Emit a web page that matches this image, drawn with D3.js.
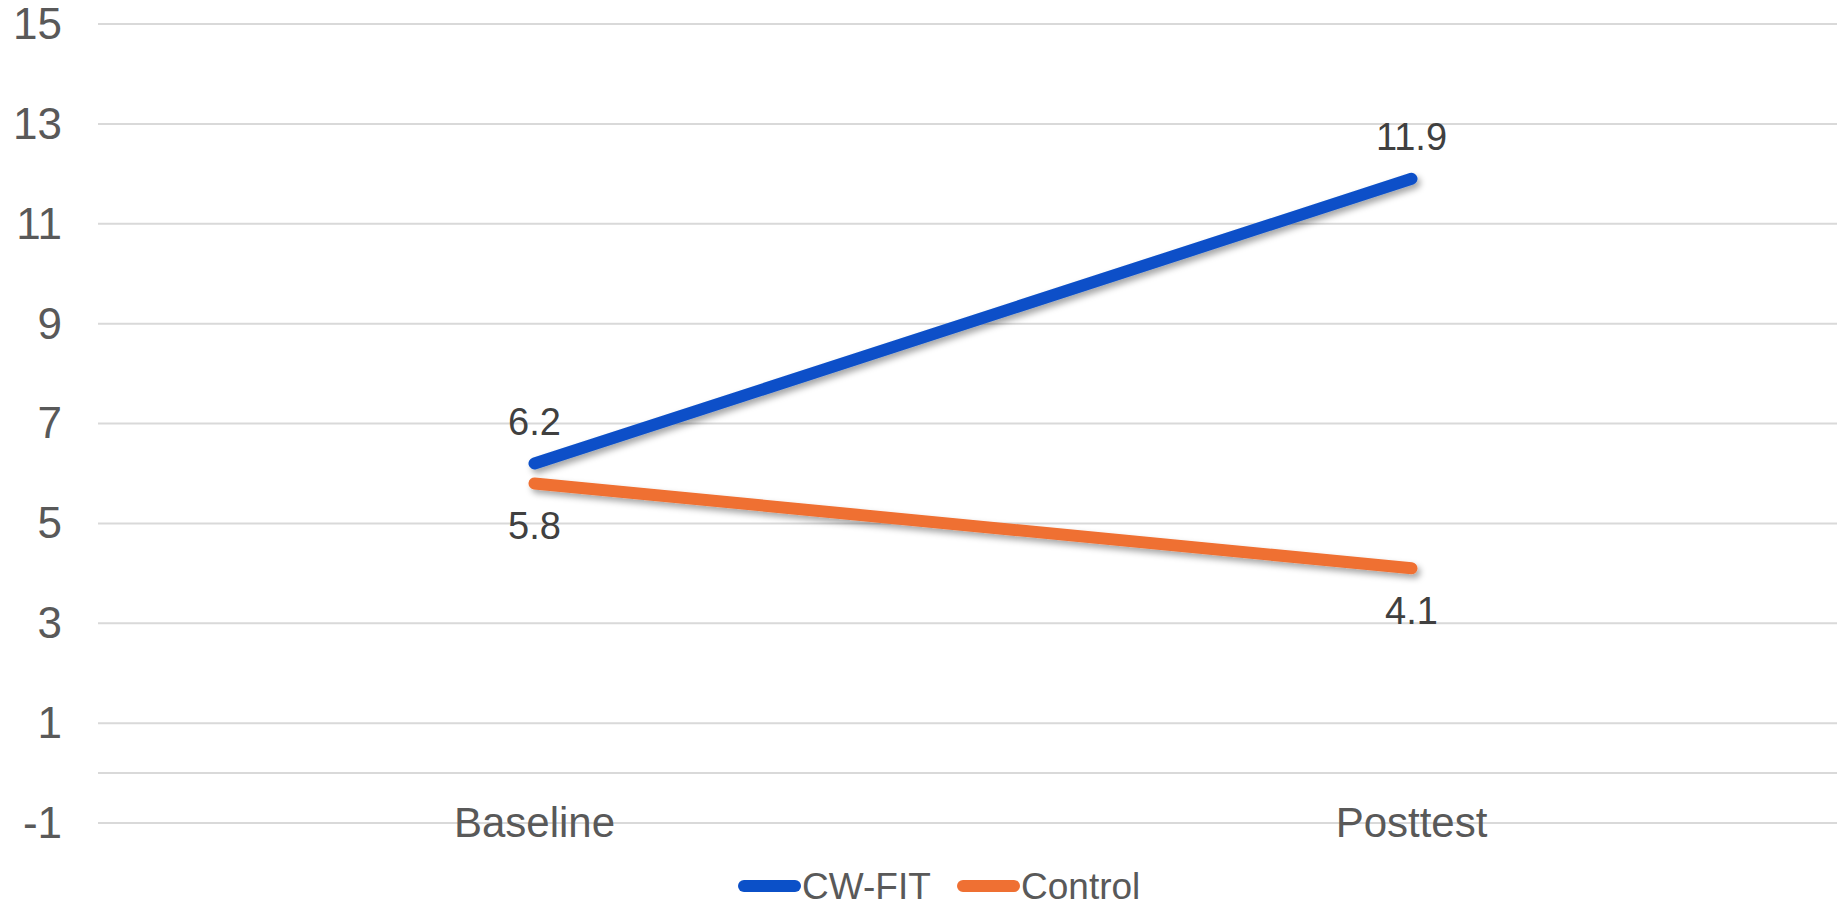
<!DOCTYPE html>
<html>
<head>
<meta charset="utf-8">
<script src="https://cdn.jsdelivr.net/npm/d3@7"></script>
<style>
  body { margin: 0; background: #fff; }
  svg { display: block; }
</style>
</head>
<body>
<script>
// chart data
const categories = ['Baseline', 'Posttest'];
const seriesNames = ['CW-FIT', 'Control'];
const cwfitValues = [6.2, 11.9];
const controlValues = [5.8, 4.1];
const yTicks = [-1, 1, 3, 5, 7, 9, 11, 13, 15];
const seriesColors = ['#0B50C8', '#EF7033'];

const W = 1837, H = 907;
const plot = { left: 98, right: 1837, top: 24, bottom: 823 };

const svg = d3.select('body').append('svg')
    .attr('width', W)
    .attr('height', H);

// drop shadow for the lines
const defs = svg.append('defs');
const shadow = defs.append('filter').attr('id', 'shadow')
    .attr('x', '-10%').attr('y', '-50%').attr('width', '120%').attr('height', '200%');
shadow.append('feDropShadow')
    .attr('dx', 3).attr('dy', 4).attr('stdDeviation', 3)
    .attr('flood-color', '#000').attr('flood-opacity', 0.35);

// band scale runs a bit past the right edge, like the reference
const x = d3.scaleBand().domain(categories).range([96, 1850]);
const y = d3.scaleLinear().domain([-1, 15]).range([plot.bottom, plot.top]);

// gridlines
svg.append('g').selectAll('line')
    .data(yTicks.concat([0]))
    .enter().append('line')
    .attr('x1', plot.left).attr('x2', plot.right)
    .attr('y1', d => y(d)).attr('y2', d => y(d))
    .attr('stroke', '#D9D9D9')
    .attr('stroke-width', 2);

const font = 'Arial, "Liberation Sans", sans-serif';

// y tick labels
svg.append('g').selectAll('text')
    .data(yTicks)
    .enter().append('text')
    .attr('x', 62)
    .attr('y', d => y(d))
    .attr('dy', '0.34em')
    .attr('text-anchor', 'end')
    .style('font-family', font)
    .style('font-size', '44px')
    .style('fill', '#595959')
    .text(d => d);

// category labels
svg.append('g').selectAll('text')
    .data(categories)
    .enter().append('text')
    .attr('x', d => x(d) + x.bandwidth() / 2)
    .attr('y', y(-1))
    .attr('dy', '0.34em')
    .attr('text-anchor', 'middle')
    .style('font-family', font)
    .style('font-size', '42px')
    .style('fill', '#595959')
    .text(d => d);

const allSeries = [cwfitValues, controlValues];
const line = d3.line()
    .x((d, i) => x(categories[i]) + x.bandwidth() / 2)
    .y(d => y(d));

allSeries.forEach((vals, s) => {
    svg.append('path')
        .datum(vals)
        .attr('d', line)
        .attr('fill', 'none')
        .attr('stroke', seriesColors[s])
        .attr('stroke-width', 12)
        .attr('stroke-linecap', 'round')
        .attr('filter', 'url(#shadow)');
});

// data labels: CW-FIT above, Control below
allSeries.forEach((vals, s) => {
    svg.append('g').selectAll('text')
        .data(vals)
        .enter().append('text')
        .attr('x', (d, i) => x(categories[i]) + x.bandwidth() / 2)
        .attr('y', d => y(d) + (s === 0 ? -42 : 42))
        .attr('dy', '0.36em')
        .attr('text-anchor', 'middle')
        .style('font-family', font)
        .style('font-size', '38px')
        .style('fill', '#404040')
        .text(d => d.toFixed(1));
});

// legend
const legendY = 886;
const legendItems = [
    { name: seriesNames[0], x0: 738 },
    { name: seriesNames[1], x0: 957 }
];
legendItems.forEach((item, s) => {
    svg.append('line')
        .attr('x1', item.x0 + 6).attr('x2', item.x0 + 57)
        .attr('y1', legendY).attr('y2', legendY)
        .attr('stroke', seriesColors[s])
        .attr('stroke-width', 12)
        .attr('stroke-linecap', 'round');
    svg.append('text')
        .attr('x', item.x0 + 64)
        .attr('y', legendY)
        .attr('dy', '0.35em')
        .style('font-family', font)
        .style('font-size', '37px')
        .style('fill', '#595959')
        .text(item.name);
});
</script>
</body>
</html>
